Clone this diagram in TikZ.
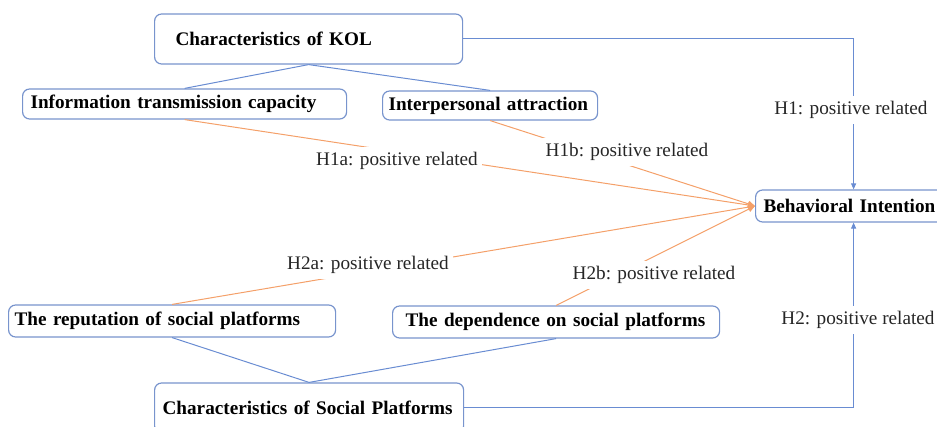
\documentclass[tikz,border=0pt]{standalone}
\usepackage{fontspec}
\setmainfont{Liberation Serif}
\usetikzlibrary{arrows.meta}
\definecolor{boxblue}{RGB}{120,148,205}
\definecolor{linkblue}{RGB}{105,140,210}
\definecolor{linkorange}{RGB}{244,160,105}
\newcommand{\diagfont}{\fontsize{19.2}{23}\selectfont}
\tikzset{
  factor/.style={draw=boxblue, line width=1.2pt, rounded corners=7pt, anchor=west,
    align=left, font=\diagfont\bfseries, inner ysep=0pt},
  hyp/.style={fill=white, inner xsep=4pt, inner ysep=5pt, text=black!85, font=\diagfont},
  tree/.style={draw=linkblue, line width=1pt},
  effect/.style={draw=linkorange, line width=1pt, -{Triangle[length=7pt,width=6pt]}},
  direct/.style={draw=linkblue, line width=1pt, -{Triangle[length=6pt,width=5pt]}},
}
\begin{document}
\begin{tikzpicture}[x=1pt,y=-1pt]
\useasboundingbox (0,0) rectangle (937,427);
% factor boxes
\node[factor, minimum height=50pt, inner xsep=21pt, text width=266pt] (kol) at (154,39) {\mbox{Characteristics of KOL}};
\node[factor, minimum height=30pt, inner xsep=8pt, text width=308pt] (info) at (22,104) {\mbox{Information transmission capacity}};
\node[factor, minimum height=29pt, inner xsep=6pt, text width=203pt] (inter) at (382,105.5) {\mbox{Interpersonal attraction}};
\node[factor, minimum height=32pt, inner xsep=8pt, text width=180pt] (behav) at (755,206) {\mbox{Behavioral Intention}};
\node[factor, minimum height=32pt, inner xsep=6pt, text width=315pt] (reput) at (8,321) {\mbox{The reputation of social platforms}};
\node[factor, minimum height=32pt, inner xsep=13pt, text width=301pt] (depend) at (392,322) {\mbox{The dependence on social platforms}};
\node[factor, minimum height=50pt, inner xsep=8pt, text width=293pt] (social) at (154,408) {\mbox{Characteristics of Social Platforms}};
% dimensions
\draw[tree] (kol.south) -- (info.north);
\draw[tree] (kol.south) -- (inter.north);
\draw[tree] (social.north) -- (reput.south);
\draw[tree] (social.north) -- (depend.south);
% hypotheses
\draw[effect] (info.south) -- (behav.west);
\draw[effect] (inter.south) -- (behav.west);
\draw[effect] (reput.north) -- (behav.west);
\draw[effect] (depend.north) -- (behav.west);
\draw[direct] (kol.east) -| (behav.north);
\draw[direct] (social.east) -| (behav.south);
\node[hyp] (h1) at (851,110) {H1: positive related};
\node[hyp] (h1a) at (397,161) {H1a: positive related};
\node[hyp] (h1b) at (627,152) {H1b: positive related};
\node[hyp] (h2a) at (368,265) {H2a: positive related};
\node[hyp] (h2b) at (654,275) {H2b: positive related};
\node[hyp] (h2) at (858,320) {H2: positive related};
\end{tikzpicture}
\end{document}
